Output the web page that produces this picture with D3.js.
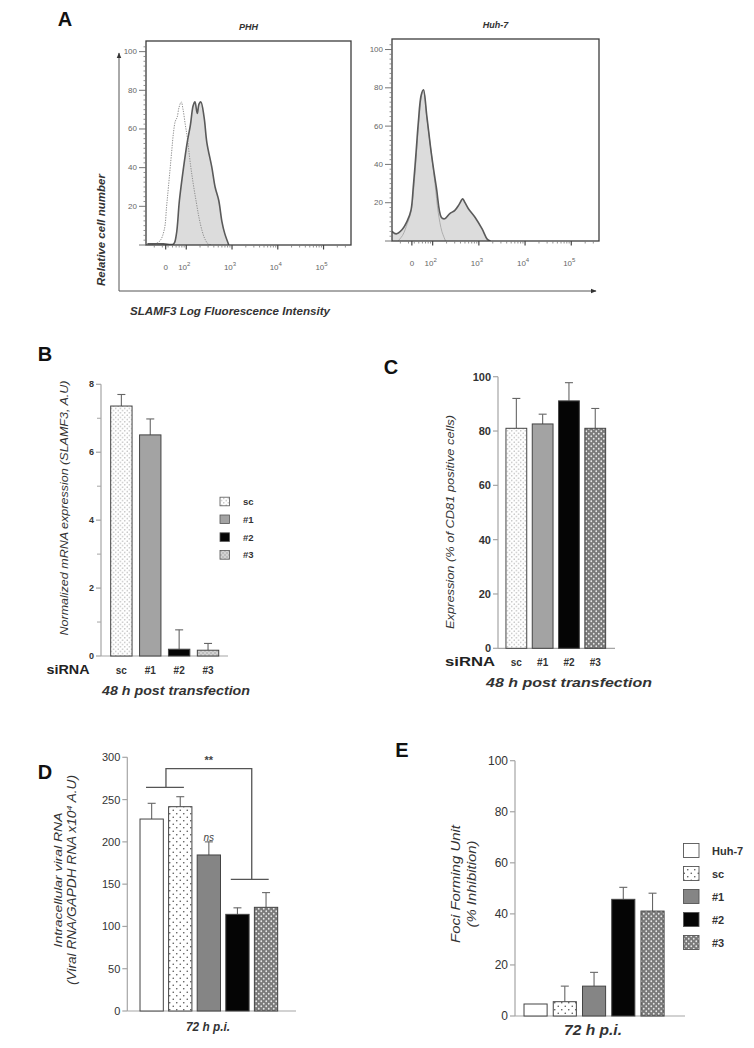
<!DOCTYPE html>
<html><head><meta charset="utf-8">
<script src="https://cdn.jsdelivr.net/npm/d3@7"></script>
<style>
body{margin:0;background:#fff}
svg{display:block}
text{font-family:"Liberation Sans",Arial,sans-serif}
</style></head>
<body><svg id="c" width="754" height="1048"></svg>
<script>
// ---------------- DATA ----------------
// Panel A: flow cytometry histograms (x in display decades, y = relative cell number)
const histTickPos = [1.55, 2, 3, 4, 5];
const histTickBase = ["0", "10", "10", "10", "10"];
const histTickExp = ["", "2", "3", "4", "5"];
const histYTicks = [20, 40, 60, 80, 100];
const phhIsotype = [[1.25,0],[1.42,2],[1.52,8],[1.57,20],[1.61,30],[1.68,48],[1.72,58],[1.76,64],[1.80,66],[1.84,71],[1.89,74],[1.93,70],[1.98,62],[2.02,56],[2.09,42],[2.15,32],[2.22,22],[2.28,14],[2.35,7],[2.41,3],[2.48,0.5],[2.55,0]];
const phhSlamf3 = [[1.15,0.6],[1.5,0.6],[1.72,0.5],[1.78,5],[1.85,23],[1.94,40],[2.02,53],[2.09,62],[2.15,72],[2.19,74],[2.24,68],[2.28,73],[2.32,74],[2.39,66],[2.45,53],[2.56,40],[2.63,30],[2.71,23],[2.78,12],[2.84,6],[2.93,0]];
const huhIsotype = [[1.25,0],[1.35,3],[1.45,9],[1.53,15],[1.6,30],[1.65,46],[1.7,62],[1.76,76],[1.8,79],[1.87,65],[1.97,46],[2.05,30],[2.12,15],[2.2,5],[2.28,0]];
const huhSlamf3 = [[1.12,5],[1.21,3.7],[1.34,6],[1.45,10.5],[1.53,16],[1.58,28],[1.64,46],[1.69,62],[1.75,76],[1.80,79],[1.875,65],[1.97,46],[2.08,28],[2.19,12.3],[2.26,11.6],[2.37,14.3],[2.48,16],[2.57,19],[2.65,22],[2.70,20],[2.77,17],[2.92,12.3],[3.07,6.3],[3.18,1],[3.25,0]];

// Panel B: SLAMF3 mRNA (A.U)
const sirnaCats = ["sc", "#1", "#2", "#3"];
const mrnaMean = [7.36, 6.51, 0.20, 0.17];
const mrnaSem = [0.34, 0.47, 0.57, 0.20];
const mrnaTicks = [0, 2, 4, 6, 8];
const mrnaMinor = [1, 3, 5, 7];

// Panel C: % of CD81 positive cells
const cd81Mean = [81.0, 82.6, 91.1, 81.0];
const cd81Sem = [11.0, 3.6, 6.7, 7.3];
const cd81Ticks = [0, 20, 40, 60, 80, 100];

// Panel D: intracellular viral RNA
const infCats = ["Huh-7", "sc", "#1", "#2", "#3"];
const rnaMean = [227, 241.6, 184.5, 114.3, 122.6];
const rnaSem = [18.6, 11.8, 15.5, 7.7, 17.4];
const rnaTicks = [0, 50, 100, 150, 200, 250, 300];

// Panel E: foci forming unit (% inhibition)
const ffuMean = [4.7, 5.6, 11.7, 45.7, 41.1];
const ffuSem = [0, 6.1, 5.4, 4.7, 7.0];
const ffuTicks = [0, 20, 40, 60, 80, 100];

// ---------------- DRAWING ----------------
const svg = d3.select("#c");
const defs = svg.append("defs");
function pattern(id, bg, dot, r, s) {
  const p = defs.append("pattern").attr("id", id).attr("patternUnits", "userSpaceOnUse")
    .attr("width", s).attr("height", s);
  p.append("rect").attr("width", s).attr("height", s).attr("fill", bg);
  p.append("circle").attr("cx", s / 4).attr("cy", s / 4).attr("r", r).attr("fill", dot);
  p.append("circle").attr("cx", 3 * s / 4).attr("cy", 3 * s / 4).attr("r", r).attr("fill", dot);
}
pattern("dotsB", "#fff", "#999", 0.6, 4.5);
pattern("dotsD", "#fff", "#555", 0.8, 7);
pattern("chkB", "#bdbdbd", "#eee", 0.8, 4);
pattern("chk", "#7a7a7a", "#e8e8e8", 0.9, 5);

function txt(g, x, y, s, o = {}) {
  const t = g.append("text").attr("x", x).attr("y", y).text(s)
    .attr("font-size", o.size || 10).attr("fill", o.fill || "#222")
    .attr("text-anchor", o.anchor || "middle")
    .attr("dominant-baseline", o.base || "central");
  if (o.bold) t.attr("font-weight", "bold");
  if (o.italic) t.attr("font-style", "italic");
  if (o.rotate) t.attr("transform", `rotate(-90,${x},${y})`);
  if (o.len) t.attr("textLength", o.len).attr("lengthAdjust", "spacingAndGlyphs");
  return t;
}

// Panel letters
[["A", 65, 19], ["B", 45, 354], ["C", 391, 367], ["D", 45, 772], ["E", 402, 750]].forEach(([l, x, y]) =>
  txt(svg, x, y, l, { size: 20, bold: true, fill: "#111" }));

// ---------- Panel A ----------
const gA = svg.append("g");
defs.append("marker").attr("id", "arr").attr("viewBox", "0 0 10 10").attr("refX", 9).attr("refY", 5)
  .attr("markerWidth", 6).attr("markerHeight", 6).attr("orient", "auto")
  .append("path").attr("d", "M0,1 L10,5 L0,9 Z").attr("fill", "#333");
gA.append("path").attr("d", d3.line()([[119, 291], [119, 53]])).attr("stroke", "#555").attr("fill", "none")
  .attr("stroke-width", 1).attr("marker-end", "url(#arr)");
gA.append("path").attr("d", d3.line()([[119, 291], [596, 291]])).attr("stroke", "#555").attr("fill", "none")
  .attr("stroke-width", 1).attr("marker-end", "url(#arr)");
txt(gA, 101, 230, "Relative cell number", { size: 10, bold: true, italic: true, rotate: true, fill: "#333", len: 112 });
txt(gA, 230, 311, "SLAMF3 Log Fluorescence Intensity", { size: 10, bold: true, italic: true, fill: "#333", len: 200 });

function histPanel(box, title, iso, pos, isoStyle) {
  const g = gA.append("g");
  const x = d3.scaleLinear().domain([1.12, 5.6]).range([box.x0, box.x1]);
  const y = d3.scaleLinear().domain([0, 105.5]).range([box.y1, box.y0]);
  const clipId = "clip" + title.replace(/\W/g, "");
  defs.append("clipPath").attr("id", clipId).append("rect")
    .attr("x", box.x0).attr("y", box.y0).attr("width", box.x1 - box.x0).attr("height", box.y1 - box.y0);
  const cg = g.append("g").attr("clip-path", `url(#${clipId})`);
  cg.append("path").datum(pos)
    .attr("d", d3.area().x(d => x(d[0])).y0(y(0)).y1(d => y(d[1])).curve(d3.curveCatmullRom))
    .attr("fill", "#dcdcdc");
  cg.append("path").datum(iso)
    .attr("d", d3.line().x(d => x(d[0])).y(d => y(d[1])).curve(d3.curveCatmullRom))
    .attr("fill", "none").attr("stroke", isoStyle.stroke).attr("stroke-width", isoStyle.width)
    .attr("stroke-dasharray", isoStyle.dash);
  cg.append("path").datum(pos)
    .attr("d", d3.line().x(d => x(d[0])).y(d => y(d[1])).curve(d3.curveCatmullRom))
    .attr("fill", "none").attr("stroke", "#5a5a5a").attr("stroke-width", 1.6);
  g.append("rect").attr("x", box.x0).attr("y", box.y0).attr("width", box.x1 - box.x0).attr("height", box.y1 - box.y0)
    .attr("fill", "none").attr("stroke", "#3c3c3c").attr("stroke-width", 1.3);
  // y ticks
  d3.range(0, 105, 2.5).forEach(v => {
    const major = v % 20 === 0;
    g.append("line").attr("x1", box.x0 - (major ? 7 : 2.5)).attr("x2", box.x0).attr("y1", y(v)).attr("y2", y(v))
      .attr("stroke", major ? "#666" : "#777").attr("stroke-width", major ? 0.9 : 0.8);
  });
  histYTicks.forEach(v => txt(g, box.x0 - 9, y(v), String(v), { size: 8, anchor: "end", fill: "#666" }));
  // x ticks
  const minors = [];
  for (let n = 1; n <= 5; n++) for (let k = 2; k <= 9; k++) {
    const d = n + Math.log10(k);
    if (d > 1.15 && d < 5.58) minors.push(d);
  }
  minors.forEach(d => g.append("line").attr("x1", x(d)).attr("x2", x(d)).attr("y1", box.y1).attr("y2", box.y1 + 2.5)
    .attr("stroke", "#777").attr("stroke-width", 0.8));
  histTickPos.forEach((d, i) => {
    g.append("line").attr("x1", x(d)).attr("x2", x(d)).attr("y1", box.y1).attr("y2", box.y1 + 4.5)
      .attr("stroke", "#444").attr("stroke-width", 1.2);
    const t = g.append("text").attr("x", x(d) - (i ? 2 : 0)).attr("y", box.y1 + 25)
      .attr("font-size", 8).attr("fill", "#666").attr("text-anchor", "middle");
    t.append("tspan").text(histTickBase[i]);
    if (histTickExp[i]) t.append("tspan").attr("dy", -4).attr("font-size", 6).text(histTickExp[i]);
  });
  txt(g, (box.x0 + box.x1) / 2, box.y0 - 14, title, { size: 9, bold: true, italic: true, fill: "#333" });
}
histPanel({ x0: 146, x1: 351, y0: 41, y1: 245 }, "PHH", phhIsotype, phhSlamf3,
  { stroke: "#8f8f8f", width: 1, dash: "1.3,1.2" });
histPanel({ x0: 392, x1: 599, y0: 39, y1: 241 }, "Huh-7", huhIsotype, huhSlamf3,
  { stroke: "#a8a8a8", width: 0.9, dash: null });

// ---------- Bar panels ----------
function barPanel(p) {
  const g = svg.append("g");
  const x = d3.scaleBand().domain(p.cats).range(p.xr).paddingInner(p.pi).paddingOuter(p.po);
  const y = d3.scaleLinear().domain(p.yd).range(p.yr);
  const axc = "#a5a5a5";
  g.append("line").attr("x1", p.ax).attr("x2", p.ax).attr("y1", y(p.yd[0])).attr("y2", y(p.yd[1]))
    .attr("stroke", axc).attr("stroke-width", 1.2);
  g.append("line").attr("x1", p.ax).attr("x2", p.axEnd).attr("y1", y(0)).attr("y2", y(0))
    .attr("stroke", axc).attr("stroke-width", 1.2);
  p.ticks.forEach(v => {
    g.append("line").attr("x1", p.ax - 5).attr("x2", p.ax).attr("y1", y(v)).attr("y2", y(v)).attr("stroke", axc).attr("stroke-width", 1.2);
    txt(g, p.ax - 7, y(v), String(v), { size: p.tickSize, bold: p.tickBold, anchor: "end", fill: "#333" });
  });
  (p.minor || []).forEach(v => g.append("line").attr("x1", p.ax - 4).attr("x2", p.ax).attr("y1", y(v)).attr("y2", y(v))
    .attr("stroke", axc).attr("stroke-width", 1));
  p.cats.forEach((c, i) => {
    const bx = x(c), bw = x.bandwidth();
    const m = p.mean[i], s = p.sem[i];
    if (s > 0) {
      g.append("line").attr("x1", bx + bw / 2).attr("x2", bx + bw / 2).attr("y1", y(m)).attr("y2", y(m + s))
        .attr("stroke", "#666").attr("stroke-width", 1.1);
      g.append("line").attr("x1", bx + bw / 2 - 4).attr("x2", bx + bw / 2 + 4).attr("y1", y(m + s)).attr("y2", y(m + s))
        .attr("stroke", "#666").attr("stroke-width", 1.1);
    }
    g.append("rect").attr("x", bx).attr("y", y(m)).attr("width", bw).attr("height", y(0) - y(m))
      .attr("fill", p.fills[c]).attr("stroke", "#444").attr("stroke-width", 1);
    if (p.catLabels) txt(g, bx + bw / 2, p.catY, c, { size: p.catSize, bold: true, fill: "#333" });
  });
  return { g, x, y };
}

const fillsBC = { "sc": "url(#dotsB)", "#1": "#a3a3a3", "#2": "#050505", "#3": "url(#chk)" };
const fillsB = Object.assign({}, fillsBC, { "#3": "url(#chkB)" });
const fillsDE = { "Huh-7": "#fff", "sc": "url(#dotsD)", "#1": "#858585", "#2": "#050505", "#3": "url(#chk)" };

// B
barPanel({ cats: sirnaCats, mean: mrnaMean, sem: mrnaSem, xr: [104.9, 224.5], pi: 0.26, po: 0.2,
  yd: [0, 8], yr: [656, 384.3], ax: 101, axEnd: 228, ticks: mrnaTicks, minor: mrnaMinor, tickSize: 9, tickBold: true,
  fills: fillsB, catLabels: true, catY: 670, catSize: 10 });
txt(svg, 68, 670, "siRNA", { size: 12, bold: true, fill: "#222", len: 43 });
txt(svg, 64, 508, "Normalized mRNA expression (SLAMF3, A.U)", { size: 10.5, italic: true, rotate: true, fill: "#333", len: 255 });
txt(svg, 176, 691, "48 h post transfection", { size: 12, bold: true, italic: true, fill: "#333", len: 148 });
const legB = svg.append("g");
sirnaCats.forEach((c, i) => {
  const yy = 501.5 + i * 17.8;
  legB.append("rect").attr("x", 220).attr("y", yy - 4.3).attr("width", 9.5).attr("height", 8.6)
    .attr("fill", fillsB[c]).attr("stroke", "#555").attr("stroke-width", 0.8);
  txt(legB, 243, yy, c, { size: 9.5, bold: true, anchor: "start", fill: "#333" });
});

// C
barPanel({ cats: sirnaCats, mean: cd81Mean, sem: cd81Sem, xr: [500.7, 610.9], pi: 0.21, po: 0.2,
  yd: [0, 100], yr: [648.3, 376.7], ax: 498, axEnd: 615, ticks: cd81Ticks, tickSize: 11, tickBold: true,
  fills: fillsBC, catLabels: true, catY: 662, catSize: 10 });
txt(svg, 470, 662, "siRNA", { size: 12.5, bold: true, fill: "#222", len: 50 });
txt(svg, 450, 522, "Expression (% of CD81 positive cells)", { size: 11, italic: true, rotate: true, fill: "#333", len: 214 });
txt(svg, 569, 683, "48 h post transfection", { size: 12.5, bold: true, italic: true, fill: "#333", len: 166 });

// D
const D = barPanel({ cats: infCats, mean: rnaMean, sem: rnaSem, xr: [130, 287.7], pi: 0.185, po: 0.35,
  yd: [0, 300], yr: [1011, 757.3], ax: 127.3, axEnd: 296, ticks: rnaTicks, tickSize: 11, tickBold: false,
  fills: fillsDE, catLabels: false });
txt(svg, 58, 880, "Intracellular viral RNA", { size: 11.5, italic: true, rotate: true, fill: "#333", len: 135 });
const dl = svg.append("text").attr("transform", "translate(72,880) rotate(-90)").attr("text-anchor", "middle")
  .attr("dominant-baseline", "central").attr("font-size", 12).attr("font-style", "italic").attr("fill", "#333")
  .attr("textLength", 210).attr("lengthAdjust", "spacingAndGlyphs");
dl.append("tspan").text("(Viral RNA/GAPDH RNA x10");
dl.append("tspan").attr("dy", -3).attr("font-size", 8).text("4");
dl.append("tspan").attr("dy", 3).text(" A.U)");
txt(svg, 208, 1027, "72 h p.i.", { size: 12, bold: true, italic: true, fill: "#333", len: 44 });
// significance bracket
{
  const x = D.x, y = D.y, bw = x.bandwidth();
  const c = k => x(k) + bw / 2;
  const g = svg.append("g").attr("stroke", "#555").attr("stroke-width", 1.3).attr("fill", "none");
  const leftMid = (c("Huh-7") + c("sc")) / 2, rightMid = (c("#2") + c("#3")) / 2;
  g.append("path").attr("d", d3.line()([[leftMid, y(264.5)], [leftMid, y(286.5)], [rightMid, y(286.5)], [rightMid, y(155.7)]]));
  g.append("line").attr("x1", x("Huh-7") + 6).attr("x2", x("sc") + bw - 8).attr("y1", y(264.5)).attr("y2", y(264.5));
  g.append("line").attr("x1", x("#2") + 5).attr("x2", x("#3") + bw - 9).attr("y1", y(155.7)).attr("y2", y(155.7));
  txt(svg, (leftMid + rightMid) / 2, y(297), "**", { size: 11, bold: true, fill: "#444" });
  txt(svg, c("#1"), y(205), "ns", { size: 10, italic: true, fill: "#444" });
}

// E
barPanel({ cats: infCats, mean: ffuMean, sem: ffuSem, xr: [516.7, 671.4], pi: 0.21, po: 0.25,
  yd: [0, 100], yr: [1016, 760.7], ax: 515, axEnd: 685, ticks: ffuTicks, tickSize: 12, tickBold: false,
  fills: fillsDE, catLabels: false });
txt(svg, 455, 884, "Foci Forming Unit", { size: 13, italic: true, rotate: true, fill: "#333", len: 118 });
txt(svg, 472, 884, "(% Inhibition)", { size: 12, italic: true, rotate: true, fill: "#333", len: 87 });
txt(svg, 593, 1030, "72 h p.i.", { size: 14, bold: true, italic: true, fill: "#333", len: 58 });
const legE = svg.append("g");
infCats.forEach((c, i) => {
  const yy = 850.5 + i * 23;
  legE.append("rect").attr("x", 683.5).attr("y", yy - 7).attr("width", 15.5).attr("height", 14)
    .attr("fill", fillsDE[c]).attr("stroke", "#555").attr("stroke-width", 0.9);
  txt(legE, 712, yy, c, { size: 11, bold: true, anchor: "start", fill: "#333" });
});
</script>
</body></html>
